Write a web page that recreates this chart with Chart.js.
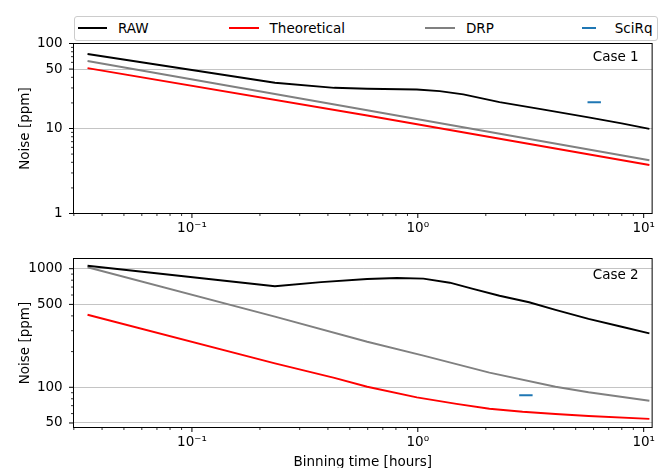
<!DOCTYPE html>
<html><head><meta charset="utf-8">
<script src="https://cdn.jsdelivr.net/npm/chart.js@4.4.0/dist/chart.umd.min.js"></script>
<style>
html,body{margin:0;padding:0;background:#fff;width:662px;height:468px;overflow:hidden;font-family:'DejaVu Sans',sans-serif;}
.box{position:absolute;left:0;width:662px;}
#top{top:0;height:235px;}
#bot{top:235px;height:233px;}
#legend{position:absolute;left:73.5px;top:15.5px;width:584px;height:25px;box-sizing:border-box;border:1px solid #cccccc;border-radius:3px;background:#fff;display:flex;justify-content:space-between;align-items:center;padding:0 4px 0 3px;font-size:13.5px;font-family:'DejaVu Sans',sans-serif;color:#000;}
.item{display:flex;align-items:center;white-space:nowrap;}
.handle{width:29.5px;height:12px;position:relative;margin-right:11px;}
.handle span{position:absolute;top:5px;height:2px;}
</style></head><body>
<div class="box" id="top"><canvas id="c1"></canvas></div>
<div class="box" id="bot"><canvas id="c2"></canvas></div>
<div id="legend"></div>
<script>
// ---- series definitions ----
const seriesNames = ['RAW', 'Theoretical', 'DRP', 'SciRq'];
const seriesColors = ['#000000', '#ff0000', '#808080', '#1f77b4'];

// ---- Case 1 (hours, ppm) ----
const case1RawHours = [0.0345, 0.1, 0.233, 0.427, 0.597, 0.99, 1.25, 1.59, 2.30, 3.56, 5.70, 7.99, 10.6];
const case1Raw      = [75.2, 48.7, 34.5, 30.1, 29.3, 28.8, 27.5, 25.2, 20.4, 16.8, 13.5, 11.5, 9.9];
const case1TheoHours = [0.0345, 0.597, 10.6];
const case1Theo      = [51.4, 14.2, 3.72];
const case1DrpHours  = [0.0345, 0.597, 10.6];
const case1Drp       = [62.2, 16.4, 4.23];
const case1SciRqHours = [6.04];
const case1SciRq      = [20.3];

// ---- Case 2 (hours, ppm) ----
const case2RawHours = [0.0345, 0.233, 0.373, 0.597, 0.809, 1.059, 1.386, 1.755, 2.30, 3.11, 4.07, 5.70, 7.99, 10.6];
const case2Raw      = [1059, 711, 770, 818, 835, 824, 762, 675, 591, 521, 449, 377, 324, 285];
const case2TheoHours = [0.0345, 0.233, 0.427, 0.597, 0.99, 1.483, 2.075, 2.91, 4.07, 5.70, 10.6];
const case2Theo      = [409, 159, 120, 101, 82.3, 72.5, 66.0, 62.2, 59.5, 57.3, 54.1];
const case2DrpHours  = [0.0345, 0.233, 0.597, 1.059, 2.075, 4.07, 5.70, 10.6];
const case2Drp       = [1028, 394, 242, 185, 133, 101, 90.7, 77];
const case2SciRqHours = [3.01];
const case2SciRq      = [85.6];

// ---- ticks ----
const xTickLabels = [0.1, 1, 10];
const xMinorTicks = [0.03,0.04,0.05,0.06,0.07,0.08,0.09,0.2,0.3,0.4,0.5,0.6,0.7,0.8,0.9,2,3,4,5,6,7,8,9];
const case1YTickLabels = [1, 10, 50, 100];
const case1YMinorTicks = [2,3,4,5,6,7,8,9,20,30,40,60,70,80,90];
const case2YTickLabels = [50, 100, 500, 1000];
const case2YMinorTicks = [60,70,80,90,200,300,400,600,700,800,900];

const FONT = "'DejaVu Sans', sans-serif";
const FS = 13.5;

function pts(xs, ys){ return xs.map((x,i)=>({x:x, y:ys[i]})); }
function isIn(v, arr){ return arr.some(a => Math.abs(a - v) / a < 1e-6); }
const SUP = {'-':'\u207B','0':'\u2070','1':'\u00B9','2':'\u00B2','3':'\u00B3'};
function powLabel(v){
  const e = Math.round(Math.log10(v));
  return '10' + String(e).split('').map(c => SUP[c]).join('');
}

const mplAxes = {
  id: 'mplAxes',
  afterDatasetsDraw(chart, args, o) {
    const {ctx, chartArea: a} = chart;
    const xs = chart.scales.x, ys = chart.scales.y;
    ctx.save();
    ctx.strokeStyle = '#000';
    xs.ticks.forEach(t => {
      const major = isIn(t.value, o.xMajor);
      const p = xs.getPixelForValue(t.value);
      ctx.lineWidth = major ? 1 : 0.8;
      ctx.beginPath(); ctx.moveTo(p, a.bottom); ctx.lineTo(p, a.bottom + (major ? 4.5 : 2.5)); ctx.stroke();
    });
    ys.ticks.forEach(t => {
      const major = isIn(t.value, o.yMajor);
      const p = ys.getPixelForValue(t.value);
      ctx.lineWidth = major ? 1 : 0.8;
      ctx.beginPath(); ctx.moveTo(a.left, p); ctx.lineTo(a.left - (major ? 4.5 : 2.5), p); ctx.stroke();
    });
    ctx.lineWidth = 1;
    ctx.strokeRect(a.left, a.top, a.right - a.left, a.bottom - a.top);
    ctx.fillStyle = '#000';
    ctx.font = FS + 'px ' + FONT;
    ctx.textAlign = 'right';
    ctx.textBaseline = 'middle';
    ctx.fillText(o.text, a.right - o.dx, a.top + o.dy);
    ctx.restore();
  }
};

function lineDs(label, color, data){
  return {label, data, borderColor: color, backgroundColor: color, borderWidth: 1.9,
          pointRadius: 0, showLine: true, tension: 0, fill: false};
}
function sciDs(label, color, data){
  return {label, data, borderColor: color, backgroundColor: color, borderWidth: 2,
          pointStyle: 'line', pointRadius: 6.7, showLine: false};
}

function makeChart(id, cfg){
  return new Chart(document.getElementById(id), {
    type: 'scatter',
    data: { datasets: cfg.datasets },
    plugins: [mplAxes],
    options: {
      responsive: true, maintainAspectRatio: false, animation: false, devicePixelRatio: 1,
      layout: { padding: { top: cfg.padTop, right: 4.5, left: 0, bottom: 0 } },
      plugins: {
        legend: { display: false }, tooltip: { enabled: false },
        mplAxes: { text: cfg.caseText, dx: 13.5, dy: cfg.caseDy, xMajor: xTickLabels, yMajor: cfg.yLabels }
      },
      scales: {
        x: {
          type: 'logarithmic', position: 'bottom', min: 0.0299, max: 10.9,
          afterBuildTicks: s => { s.ticks = xMinorTicks.concat(xTickLabels).sort((a,b)=>a-b).map(v => ({value: v})); },
          afterFit: s => { s.height = cfg.xHeight; },
          grid: { display: false, drawTicks: false },
          border: { display: false },
          ticks: { autoSkip: false, maxRotation: 0, padding: 6.9, color: '#000', font: { family: FONT, size: FS },
                   callback: v => isIn(v, xTickLabels) ? powLabel(v) : '' },
          title: cfg.xTitle ? { display: true, text: 'Binning time [hours]', color: '#000',
                   font: { family: FONT, size: FS, lineHeight: 1 }, padding: { top: 0, bottom: -1 } } : { display: false }
        },
        y: {
          type: 'logarithmic', position: 'left', min: cfg.yMin, max: cfg.yMax,
          afterBuildTicks: s => { s.ticks = cfg.yMinor.concat(cfg.yLabels).sort((a,b)=>a-b).map(v => ({value: v})); },
          afterFit: s => { s.width = 73.5; },
          grid: { drawTicks: false, lineWidth: 1,
                  color: c => (c.tick && isIn(c.tick.value, cfg.yLabels)) ? '#c4c4c4' : 'rgba(0,0,0,0)' },
          border: { display: false },
          ticks: { autoSkip: false, padding: 10.8, color: '#000', font: { family: FONT, size: FS },
                   callback: v => isIn(v, cfg.yLabels) ? String(v) : '' },
          title: { display: true, text: 'Noise [ppm]', color: '#000',
                   font: { family: FONT, size: FS, lineHeight: 1 }, padding: { top: 18.25, bottom: 0 } }
        }
      }
    }
  });
}

makeChart('c1', {
  padTop: 43.5, xHeight: 21.5, yMin: 1, yMax: 100,
  yLabels: case1YTickLabels, yMinor: case1YMinorTicks,
  caseText: 'Case 1', caseDy: 13.9, xTitle: false,
  datasets: [
    lineDs(seriesNames[0], seriesColors[0], pts(case1RawHours, case1Raw)),
    lineDs(seriesNames[1], seriesColors[1], pts(case1TheoHours, case1Theo)),
    lineDs(seriesNames[2], seriesColors[2], pts(case1DrpHours, case1Drp)),
    sciDs(seriesNames[3], seriesColors[3], pts(case1SciRqHours, case1SciRq))
  ]
});

makeChart('c2', {
  padTop: 23.5, xHeight: 40.5, yMin: 45.8, yMax: 1219,
  yLabels: case2YTickLabels, yMinor: case2YMinorTicks,
  caseText: 'Case 2', caseDy: 17, xTitle: true,
  datasets: [
    lineDs(seriesNames[0], seriesColors[0], pts(case2RawHours, case2Raw)),
    lineDs(seriesNames[1], seriesColors[1], pts(case2TheoHours, case2Theo)),
    lineDs(seriesNames[2], seriesColors[2], pts(case2DrpHours, case2Drp)),
    sciDs(seriesNames[3], seriesColors[3], pts(case2SciRqHours, case2SciRq))
  ]
});

// ---- legend (HTML) ----
const leg = document.getElementById('legend');
seriesNames.forEach((name, i) => {
  const item = document.createElement('div'); item.className = 'item';
  const h = document.createElement('div'); h.className = 'handle';
  const ln = document.createElement('span');
  const isMarker = (name === 'SciRq');
  const w = isMarker ? 13.4 : 29.5;
  ln.style.left = ((29.5 - w) / 2) + 'px';
  ln.style.width = w + 'px';
  ln.style.background = seriesColors[i];
  h.appendChild(ln);
  const t = document.createElement('span'); t.textContent = name;
  item.appendChild(h); item.appendChild(t);
  leg.appendChild(item);
});
</script>
</body></html>
